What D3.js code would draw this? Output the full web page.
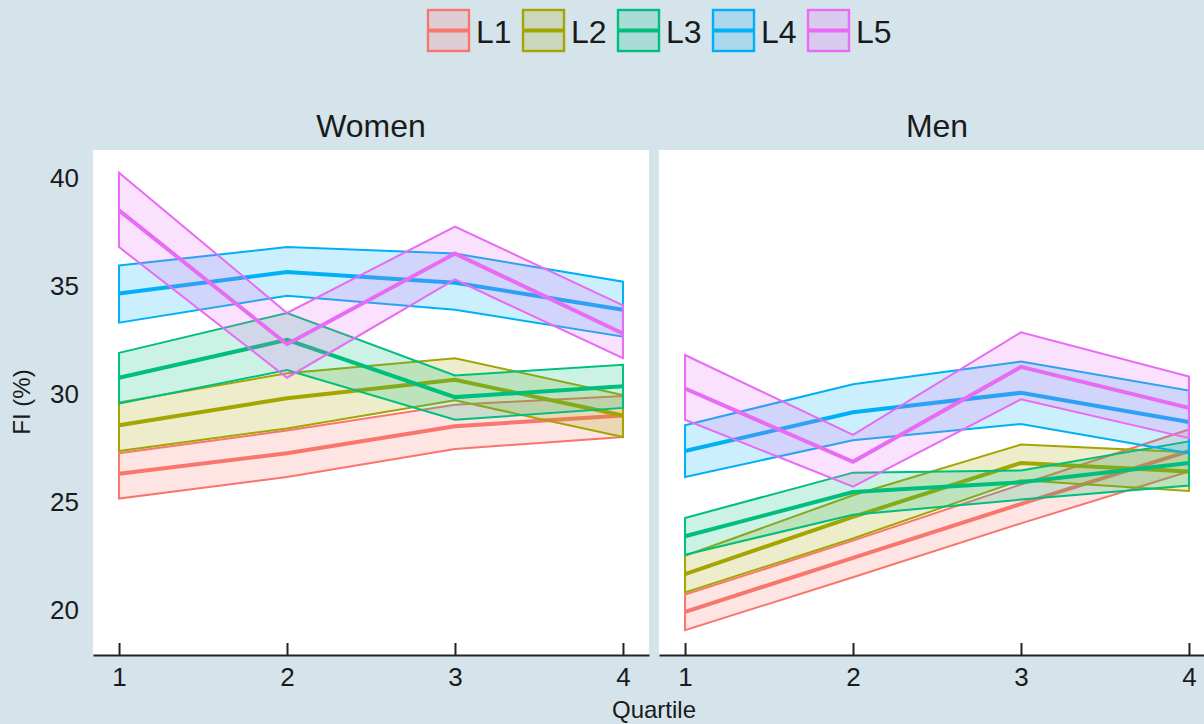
<!DOCTYPE html>
<html>
<head>
<meta charset="utf-8">
<script src="https://d3js.org/d3.v7.min.js"></script>
<style>
  body { margin: 0; background: #d5e4eb; }
  svg { display: block; font-family: "Liberation Sans", Arial, Helvetica, sans-serif; }
</style>
</head>
<body>
<div id="chart"></div>
<script>
// data
const quartiles = [1, 2, 3, 4];
const levels = ["L1", "L2", "L3", "L4", "L5"];
const panels = ["Women", "Men"];
const yTicks = [20, 25, 30, 35, 40];

// Women: mean, lower, upper per level
const womenMean = [
  [26.3, 27.25, 28.5, 29.0],
  [28.55, 29.8, 30.65, 29.0],
  [30.75, 32.5, 29.85, 30.35],
  [34.65, 35.65, 35.15, 33.9],
  [38.5, 32.3, 36.5, 32.8]
];
const womenLower = [
  [25.15, 26.15, 27.45, 28.0],
  [27.35, 28.4, 29.7, 28.0],
  [29.55, 31.1, 28.8, 29.35],
  [33.3, 34.55, 33.9, 32.65],
  [36.8, 30.75, 35.3, 31.65]
];
const womenUpper = [
  [27.25, 28.3, 29.5, 29.9],
  [29.6, 30.95, 31.65, 29.95],
  [31.9, 33.75, 30.85, 31.35],
  [35.95, 36.8, 36.5, 35.2],
  [40.25, 33.75, 37.75, 34.1]
];

// Men
const menMean = [
  [19.9, 22.4, 24.9, 27.35],
  [21.65, 24.3, 26.8, 26.4],
  [23.4, 25.45, 25.9, 26.8],
  [27.35, 29.15, 30.05, 28.7],
  [30.25, 26.85, 31.25, 29.35]
];
const menLower = [
  [19.05, 21.5, 24.0, 26.4],
  [20.8, 23.3, 26.0, 25.5],
  [22.55, 24.4, 25.1, 25.75],
  [26.15, 27.85, 28.6, 27.25],
  [28.8, 25.7, 29.75, 27.95]
];
const menUpper = [
  [20.7, 23.2, 25.8, 28.35],
  [22.5, 25.3, 27.65, 27.3],
  [24.25, 26.35, 26.45, 27.8],
  [28.55, 30.45, 31.5, 30.15],
  [31.8, 28.1, 32.85, 30.8]
];

const colors = ["#F8766D", "#A3A500", "#00BF7D", "#00B0F6", "#E76BF3"];

// layout
const width = 1204, height = 724;
const panelTop = 150, panelBottom = 655;
const panelW = 556, panelGap = 10, panelLeft0 = 93;
const bg = "#d5e4eb";

const svg = d3.select("#chart").append("svg")
  .attr("width", width)
  .attr("height", height);

svg.append("rect").attr("width", width).attr("height", height).attr("fill", bg);

const y = d3.scaleLinear().domain([17.9, 41.3]).range([panelBottom, panelTop]);

const color = d3.scaleOrdinal().domain(levels).range(colors);

const series = {
  Women: { mean: womenMean, lower: womenLower, upper: womenUpper },
  Men: { mean: menMean, lower: menLower, upper: menUpper }
};

panels.forEach((name, pi) => {
  const left = panelLeft0 + pi * (panelW + panelGap);
  const x = d3.scaleLinear().domain([0.845, 4.155]).range([left, left + panelW]);

  // panel background
  svg.append("rect")
    .attr("x", left).attr("y", panelTop)
    .attr("width", panelW).attr("height", panelBottom - panelTop)
    .attr("fill", "#fff");

  // strip title
  svg.append("text")
    .attr("x", left + panelW / 2).attr("y", 137)
    .attr("text-anchor", "middle")
    .attr("font-size", 32)
    .attr("fill", "#1a1a1a")
    .text(name);

  const s = series[name];
  const rows = levels.map((lv, i) => quartiles.map((q, j) => ({
    q: q, mean: s.mean[i][j], lo: s.lower[i][j], hi: s.upper[i][j]
  })));

  const area = d3.area().x(d => x(d.q)).y0(d => y(d.lo)).y1(d => y(d.hi));
  const line = d3.line().x(d => x(d.q)).y(d => y(d.mean));

  const g = svg.append("g");
  rows.forEach((r, i) => {
    g.append("path")
      .attr("d", area(r) + "Z")
      .attr("fill", color(levels[i]))
      .attr("fill-opacity", 0.2)
      .attr("stroke", color(levels[i]))
      .attr("stroke-width", 2)
      .attr("stroke-linejoin", "miter");
    g.append("path")
      .attr("d", line(r))
      .attr("fill", "none")
      .attr("stroke", color(levels[i]))
      .attr("stroke-width", 4);
  });

  // x axis, ticks point inward
  const xAxis = svg.append("g")
    .attr("transform", `translate(0,${panelBottom})`)
    .call(d3.axisBottom(x).tickValues(quartiles).tickFormat(d3.format("d"))
      .tickSizeInner(-12).tickSizeOuter(0).tickPadding(13));
  xAxis.select(".domain").attr("stroke", "#222").attr("stroke-width", 2);
  xAxis.selectAll(".tick line").attr("stroke", "#222").attr("stroke-width", 2);
  xAxis.selectAll(".tick text").attr("font-size", 26).attr("fill", "#1a1a1a")
    .attr("font-family", "Liberation Sans, Arial, sans-serif");
});

// y axis labels (no line, no ticks)
const yAxis = svg.append("g")
  .attr("transform", `translate(${panelLeft0},0)`)
  .call(d3.axisLeft(y).tickValues(yTicks).tickSize(0).tickPadding(14));
yAxis.select(".domain").remove();
yAxis.selectAll(".tick text").attr("font-size", 26).attr("fill", "#1a1a1a")
  .attr("font-family", "Liberation Sans, Arial, sans-serif");

// axis titles
svg.append("text")
  .attr("x", 654).attr("y", 718)
  .attr("text-anchor", "middle")
  .attr("font-size", 24).attr("fill", "#1a1a1a")
  .text("Quartile");

svg.append("text")
  .attr("transform", "translate(30,402) rotate(-90)")
  .attr("text-anchor", "middle")
  .attr("font-size", 24).attr("fill", "#1a1a1a")
  .text("FI (%)");

// legend
const legend = svg.append("g").attr("transform", "translate(427,9)");
const item = legend.selectAll("g").data(levels).join("g")
  .attr("transform", (d, i) => `translate(${i * 95},0)`);
item.append("rect")
  .attr("x", 1).attr("y", 1).attr("width", 41).attr("height", 41)
  .attr("fill", d => color(d)).attr("fill-opacity", 0.2)
  .attr("stroke", d => color(d)).attr("stroke-width", 2.4);
item.append("line")
  .attr("x1", 1).attr("x2", 42).attr("y1", 21.5).attr("y2", 21.5)
  .attr("stroke", d => color(d)).attr("stroke-width", 4);
item.append("text")
  .attr("x", 49).attr("y", 34)
  .attr("font-size", 32).attr("fill", "#1a1a1a")
  .text(d => d);
</script>
</body>
</html>
